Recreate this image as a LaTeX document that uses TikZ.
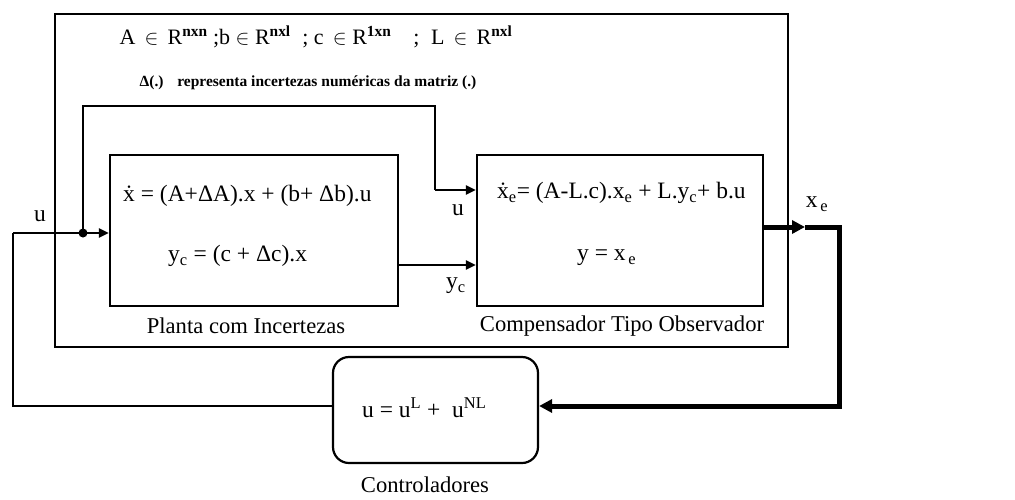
\documentclass[tikz,border=0pt]{standalone}
\usepackage{fontspec}
\setmainfont{Liberation Serif}
\usetikzlibrary{arrows.meta}
\begin{document}
\begin{tikzpicture}[x=1pt,y=-1pt,
  blk/.style={draw, line width=2.2pt, inner sep=0pt},
  ln/.style={line width=2.2pt},
  conn/.style={line width=2.2pt, -{Triangle[length=10pt,width=9pt]}},
  thk/.style={line width=5pt},
  thkarr/.style={line width=5pt, -{Triangle[length=13pt,width=13pt]}},
  txt/.style={inner sep=0pt, font=\fontsize{23.5}{25}\selectfont},
  lbl/.style={inner sep=0pt, font=\fontsize{22.6}{24}\selectfont}]
\useasboundingbox (0,0) rectangle (1015,499);
\fill[white] (0,0) rectangle (1015,499);

% blocks
\node[blk, minimum width=733, minimum height=333] (outer) at (421.5,180.5) {};
\node[blk, minimum width=288, minimum height=151] (plant) at (254,230.5) {};
\node[blk, minimum width=286, minimum height=151] (obs) at (620,230.5) {};
\node[blk, rounded corners=16pt, minimum width=205, minimum height=106] (ctrl) at (435.5,410) {};

% header texts
\node[inner sep=0pt, font=\fontsize{22}{24}\selectfont] (dims) at (316,37)
  {A\, $\in$\, R\textsuperscript{\textbf{nxn}} ;b $\in$ R\textsuperscript{\textbf{nxl}}\; ; c\, $\in$ R\textsuperscript{\textbf{1xn}}\quad ;\; L\, $\in$\, R\textsuperscript{\textbf{nxl}}};
\node[inner sep=0pt, font=\fontsize{15.5}{17}\selectfont\bfseries] (delta) at (308,83)
  {Δ(.)\;\; representa incertezas numéricas da matriz (.)};

% block texts
\node[txt, anchor=west] (pe1) at (123,196) {\.x = (A+ΔA).x + (b+ Δb).u};
\node[txt, anchor=west] (pe2) at (168,256) {y\textsubscript{c} = (c + Δc).x};
\node[txt, anchor=west] (oe1) at (497,193) {\.x\textsubscript{e}= (A-L.c).x\textsubscript{e} + L.y\textsubscript{c}+ b.u};
\node[txt, anchor=west] (oe2) at (577,258) {y = x\textsubscript{\,e}};
\node[txt, anchor=west] (ce) at (362,408) {u = u\textsuperscript{L} +\ \ u\textsuperscript{NL}};

\node[lbl] (lp) at (246,326) {Planta com Incertezas};
\node[lbl] (lo) at (622,326) {Compensador Tipo Observador};
\node[lbl] (lc) at (425,485) {Controladores};

% signal labels
\node[txt] (lu1) at (40,216) {u};
\node[txt] (lu2) at (458,210) {u};
\node[txt] (lyc) at (456,286) {y\textsubscript{c}};
\node[txt] (lxe) at (817,204) {x\textsubscript{\,e}};

% coordinates
\coordinate (fbl) at (13,406);
\coordinate (uin) at (13,233);
\coordinate (dot) at (83,233);
\coordinate (utop) at (83,106);
\coordinate (uturn) at (435,106);
\coordinate (uobs) at (435,190);
\coordinate (ycl) at (0,265);
\coordinate (xemid) at (805,227);
\coordinate (xer) at (839,227);
\coordinate (xeb) at (839,406);

% connectors
\draw[ln] (ctrl.west |- fbl) -- (fbl) -- (uin);
\draw[conn] (uin) -- (plant.west |- uin);
\fill (dot) circle (4.5);
\draw[ln] (dot) -- (utop) -- (uturn) -- (uobs);
\draw[conn] (uobs) -- (obs.west |- uobs);
\draw[conn] (plant.east |- ycl) -- (obs.west |- ycl);
\draw[thkarr] (obs.east |- xemid) -- (xemid);
\draw[thk] (xemid) -- (xer) -- (xeb) -- ([xshift=8pt]ctrl.east |- xeb);
\draw[thkarr] (xeb) -- (ctrl.east |- xeb);
\end{tikzpicture}
\end{document}
